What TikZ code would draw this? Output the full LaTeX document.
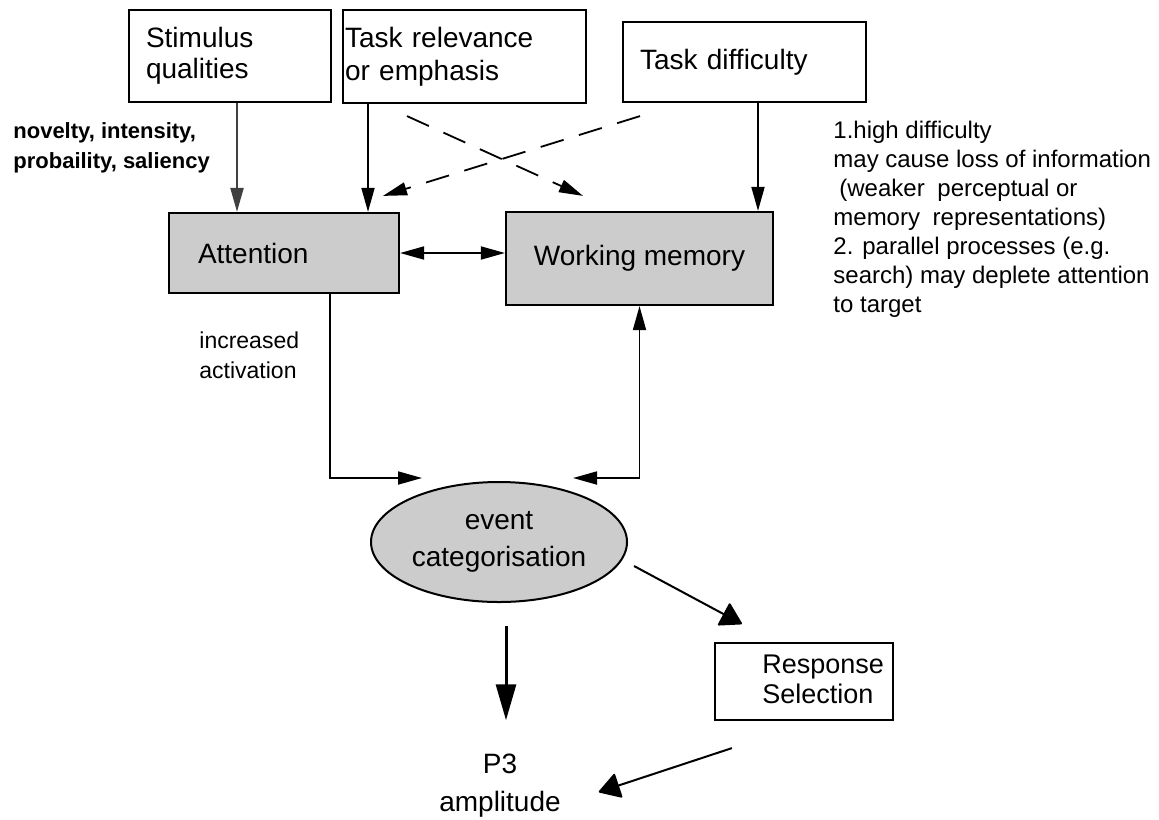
\documentclass[tikz,border=0pt]{standalone}
\usepackage{fontspec}
\setmainfont{Liberation Sans}
\usetikzlibrary{arrows.meta,shapes.geometric}

\tikzset{
  box/.style={draw, line width=1.1pt, font=\fontsize{14}{16.5}\selectfont},
  graybox/.style={box, fill=black!20},
  note/.style={align=left, inner sep=0pt, font=\fontsize{12}{14.5}\selectfont},
  arr/.style={line width=0.9pt, -{Triangle[length=12pt,width=6.5pt]}},
  arrboth/.style={line width=0.9pt, {Triangle[length=12pt,width=6.5pt]}-{Triangle[length=12pt,width=6.5pt]}},
  dasharr/.style={arr, dash pattern=on 12pt off 8pt},
  bigarr/.style={line width=1pt, -{Triangle[length=11pt,width=13pt,round]}},
  longarr/.style={line width=1.5pt, -{Triangle[length=18pt,width=10pt]}},
}

\begin{document}
\begin{tikzpicture}[x=0.5pt,y=-0.5pt]
\useasboundingbox (0,0) rectangle (1159,819);

% input boxes
\node[box, minimum width=101pt, minimum height=46pt, text width=84pt, inner xsep=8.5pt, align=left, font=\fontsize{14}{15.5}\selectfont] (stim) at (230,56) {Stimulus\\qualities};
\node[box, minimum width=121.5pt, minimum height=46.5pt, text width=119.5pt, inner xsep=1pt, align=left] (task) at (464.5,56.5) {Task relevance\\or emphasis};
\node[box, minimum width=121.5pt, minimum height=40pt, text width=104.5pt, inner xsep=8.5pt, align=left] (diff) at (744.5,62) {Task difficulty};

% processing stages
\node[graybox, minimum width=115pt, minimum height=40pt, text width=86pt, inner xsep=14.5pt, align=left] (att) at (284,253) {Attention};
\node[graybox, minimum width=133.5pt, minimum height=46.5pt] (wm) at (639.5,258.5) {Working memory};
\node[ellipse, draw, fill=black!20, line width=1pt, minimum width=128pt, minimum height=60pt, inner sep=0pt, align=center, font=\fontsize{14}{18.5}\selectfont] (ev) at (499,542) {event\\categorisation};
\node[box, minimum width=89pt, minimum height=38.5pt] (resp) at (804,681.5) {};
\node[align=left, inner sep=0pt, font=\fontsize{13.5}{15}\selectfont, anchor=west] (resptxt) at (762,679) {Response\\Selection};
\node[align=center, font=\fontsize{14}{19}\selectfont] (p3) at (500,786) {P3\\amplitude};

% notes
\node[note, font=\fontsize{11}{15}\selectfont\bfseries, anchor=west] (qual) at (13,148) {novelty, intensity,\\probaility, saliency};
\node[note, font=\fontsize{11.5}{15}\selectfont, anchor=west] (act) at (199,355) {increased\\activation};
\node[note, anchor=west] (diffnote) at (833,219) {1.high difficulty\\may cause loss of information\\\hspace{3pt}(weaker\hspace{3pt} perceptual or\\memory\hspace{3pt} representations)\\2. parallel processes (e.g.\\search) may deplete attention\\to target};

% arrows
\draw[arr, draw=black!75, line width=1.1pt] ([xshift=3.5pt]stim.south) -- ([xshift=-23.5pt]att.north);
\draw[arr] ([xshift=-48.25pt]task.south) -- ([xshift=42pt]att.north);
\draw[arr] ([xshift=6.75pt]diff.south) -- ([xshift=59.25pt]wm.north);
\draw[dasharr] ([xshift=-28.75pt,yshift=-6pt]task.south) -- ([xshift=-28.25pt,yshift=7.5pt]wm.north);
\draw[dasharr] ([xshift=-52.25pt,yshift=-6.5pt]diff.south) -- ([xshift=49.5pt,yshift=8pt]att.north);
\draw[arrboth] (att.east) -- (att.east -| wm.west);
\draw[arr] ([xshift=23pt]att.south) |- ([xshift=-38.5pt,yshift=1.5pt]ev.north);
\draw[arrboth] ([xshift=37pt,yshift=1.5pt]ev.north) -| (wm.south);
\draw[bigarr] ([xshift=3pt,yshift=-12pt]ev.east) -- ([xshift=14pt,yshift=9pt]resp.north west);
\draw[longarr] ([xshift=3.5pt,yshift=-11.5pt]ev.south) -- ([xshift=3pt,yshift=13.5pt]p3.north);
\draw[bigarr] ([xshift=9pt,yshift=-13.5pt]resp.south west) -- ([xshift=15.5pt,yshift=-3pt]p3.east);
\end{tikzpicture}
\end{document}
